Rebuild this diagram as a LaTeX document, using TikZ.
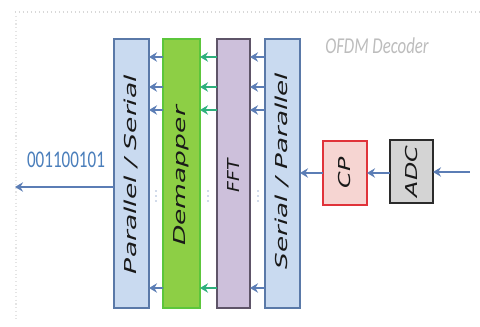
\documentclass[tikz,border=0pt]{standalone}
\usepackage{fontspec}
\setmainfont{DejaVu Sans}
\newfontfamily\carlito{Carlito}
\usetikzlibrary{arrows.meta,calc}
\definecolor{psfill}{HTML}{C9DAF0}
\definecolor{psdraw}{HTML}{5A79A8}
\definecolor{dmfill}{HTML}{8DCF45}
\definecolor{dmdraw}{HTML}{5CC63B}
\definecolor{fftfill}{HTML}{CDC0DB}
\definecolor{fftdraw}{HTML}{5E5468}
\definecolor{cpfill}{HTML}{F6D5D2}
\definecolor{cpdraw}{HTML}{E0333A}
\definecolor{adcfill}{HTML}{D4D4D4}
\definecolor{adcdraw}{HTML}{2B2B2B}
\definecolor{arrblue}{HTML}{5B7DB5}
\definecolor{arrgreen}{HTML}{2EB07C}
\definecolor{txtblue}{HTML}{4A7EBB}
\definecolor{framegray}{HTML}{D8D8D8}
\definecolor{titlegray}{HTML}{BDBDBD}
\newcommand{\vlabel}[2][1.38]{\rotatebox{90}{\scalebox{#1}[1]{\fontsize{12.3}{14}\selectfont\itshape #2}}}
\begin{document}
\begin{tikzpicture}[x=0.75pt,y=-0.75pt,
  blk/.style={draw, line width=1.5pt, inner sep=0pt, outer sep=0pt},
  tall/.style={blk, minimum height=201.75pt},
  lbl/.style={inner sep=0pt, text=black!90},
  arr/.style={draw=arrblue, line width=1.3pt, -{Stealth[length=6pt,width=7pt,inset=2pt]}},
  garr/.style={arr, draw=arrgreen},
  dotc/.style={fill=arrblue!55}
]
\useasboundingbox[fill=white] (0,0) rectangle (480,327);
% frame hints
\draw[framegray, line width=1pt, dotted] (15,12) -- (480,12);
\draw[framegray!70, line width=0.8pt, dotted] (16,16) -- (16,322);

% tall blocks
\node[tall, fill=psfill, draw=psdraw, minimum width=26.25pt] (ps) at (131.5,173.5) {};
\node[tall, fill=dmfill, draw=dmdraw, minimum width=27.75pt] (dm) at (181.5,173.5) {};
\node[tall, fill=fftfill, draw=fftdraw, minimum width=24.75pt] (fft) at (233.5,173.5) {};
\node[tall, fill=psfill, draw=psdraw, minimum width=26.25pt] (sp) at (282.5,173.5) {};
\node[lbl] (pslbl)  at (131.5,174.5) {\vlabel[1.62]{Parallel / Serial}};
\node[lbl] (dmlbl)  at (181.5,176)   {\vlabel[1.62]{Demapper}};
\node[lbl] (fftlbl) at (233.5,175.5) {\vlabel[1.15]{FFT}};
\node[lbl] (splbl)  at (282.5,171)   {\vlabel[1.6]{Serial / Parallel}};

% small blocks
\node[blk, fill=cpfill, draw=cpdraw, minimum width=33pt, minimum height=48pt] (cp) at (345,173)
  {\textcolor{black!90}{\vlabel[1.45]{CP}}};
\node[blk, fill=adcfill, draw=adcdraw, minimum width=32.25pt, minimum height=47.25pt] (adc) at (411.5,171.5)
  {\textcolor{black!90}{\vlabel[1.45]{ADC}}};

% input chain
\coordinate (in) at (470,172);
\draw[arr] (in) -- (in -| adc.east);
\draw[arr] (adc.west |- 0,173) -- (cp.east |- 0,173);
\draw[arr] (cp.west |- 0,173) -- (sp.east |- 0,173);

% parallel arrows
\foreach \dy in {13.5,36,53.25,186.75}{
  \draw[arr]  ([yshift=-\dy pt]sp.north west) -- ([yshift=-\dy pt]fft.north east);
  \draw[garr] ([yshift=-\dy pt]fft.north west) -- ([yshift=-\dy pt]dm.north east);
  \draw[arr]  ([yshift=-\dy pt]dm.north west) -- ([yshift=-\dy pt]ps.north east);
}
% vertical dots
\foreach \xx in {156,208,258}{
  \foreach \yy in {191,196,201}{
    \fill[dotc] (\xx,\yy) circle (0.9);
  }
}

% output
\coordinate (out) at (15,187);
\draw[arr] (ps.west |- out) -- (out);
\node[text=txtblue, font=\carlito\fontsize{12.8}{14}\selectfont, inner sep=0pt] (bits) at (66,160)
  {\scalebox{1}[1.4]{001100101}};

% title
\node[text=titlegray, font=\carlito\itshape\fontsize{12.6}{14}\selectfont, inner sep=0pt] (title) at (377,46)
  {\scalebox{1}[1.35]{OFDM Decoder}};
\end{tikzpicture}
\end{document}
